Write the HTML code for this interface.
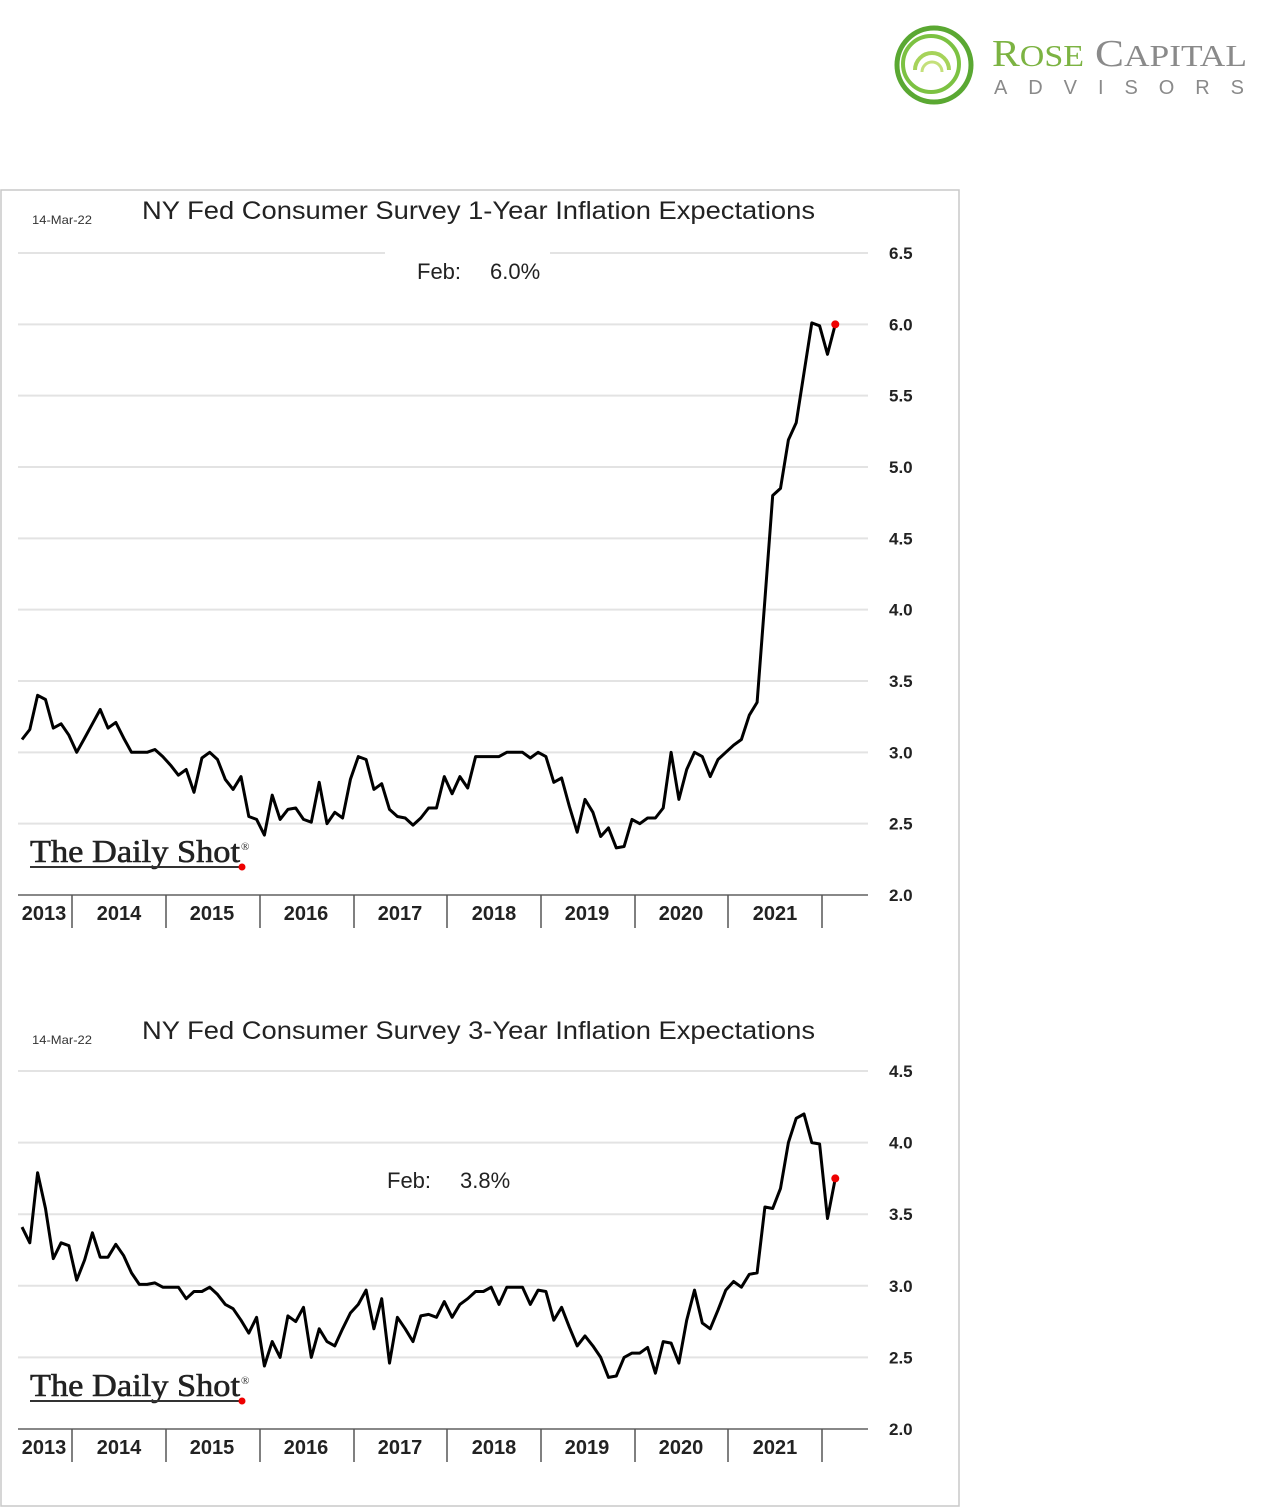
<!DOCTYPE html>
<html><head><meta charset="utf-8">
<style>
html,body{margin:0;padding:0;background:#fff;width:1272px;height:1507px;overflow:hidden}
svg{display:block}
.t{font-family:"Liberation Sans",sans-serif}
</style></head>
<body>
<svg id="page" width="1272" height="1507" viewBox="0 0 1272 1507">
  <g>
    <circle cx="934" cy="65" r="37" fill="none" stroke="#5aa832" stroke-width="5"/>
    <circle cx="931" cy="64" r="28" fill="none" stroke="#7cc242" stroke-width="4"/>
    <path d="M915 70 A17 17 0 0 1 949 70" fill="none" stroke="#a6d35a" stroke-width="4"/>
    <path d="M922 72 A10 10 0 0 1 942 72" fill="none" stroke="#c4e07a" stroke-width="3"/>
    <text x="992" y="66" font-family="Liberation Serif,serif" font-size="38" fill="#7cb342" textLength="92" lengthAdjust="spacingAndGlyphs">R<tspan font-size="31">OSE</tspan></text>
    <text x="1095" y="66" font-family="Liberation Serif,serif" font-size="38" fill="#8a8a8a" textLength="152" lengthAdjust="spacingAndGlyphs">C<tspan font-size="31">APITAL</tspan></text>
    <text x="994" y="94" class="t" font-size="20" fill="#8a8a8a" textLength="250" lengthAdjust="spacing">ADVISORS</text>
  </g>
  <rect x="1" y="190" width="958" height="1316" fill="none" stroke="#c8c8c8" stroke-width="1.5"/>
  <g id="c1"></g>
  <g id="c2"></g>
</svg>
<script>
const years = ["2013","2014","2015","2016","2017","2018","2019","2020","2021"];
const ticks1 = ["6.5","6.0","5.5","5.0","4.5","4.0","3.5","3.0","2.5","2.0"];
const ticks2 = ["4.5","4.0","3.5","3.0","2.5","2.0"];
const oneYear = [3.09,3.16,3.40,3.37,3.17,3.20,3.12,3.00,3.10,3.20,3.30,3.17,3.21,3.10,3.00,3.00,3.00,3.02,2.97,2.91,2.84,2.88,2.72,2.96,3.00,2.95,2.81,2.74,2.83,2.55,2.53,2.42,2.70,2.53,2.60,2.61,2.53,2.51,2.79,2.50,2.58,2.54,2.81,2.97,2.95,2.74,2.78,2.60,2.55,2.54,2.49,2.54,2.61,2.61,2.83,2.71,2.83,2.75,2.97,2.97,2.97,2.97,3.00,3.00,3.00,2.96,3.00,2.97,2.79,2.82,2.62,2.44,2.67,2.58,2.41,2.47,2.33,2.34,2.53,2.50,2.54,2.54,2.61,3.00,2.67,2.88,3.00,2.97,2.83,2.95,3.00,3.05,3.09,3.26,3.35,4.07,4.80,4.85,5.19,5.31,5.66,6.01,5.99,5.79,6.00];
const threeYear = [3.41,3.30,3.79,3.54,3.19,3.30,3.28,3.04,3.18,3.37,3.20,3.20,3.29,3.21,3.09,3.01,3.01,3.02,2.99,2.99,2.99,2.91,2.96,2.96,2.99,2.94,2.87,2.84,2.76,2.67,2.78,2.44,2.61,2.50,2.79,2.75,2.85,2.50,2.70,2.61,2.58,2.70,2.81,2.87,2.97,2.70,2.91,2.46,2.78,2.70,2.61,2.79,2.80,2.78,2.89,2.78,2.87,2.91,2.96,2.96,2.99,2.87,2.99,2.99,2.99,2.87,2.97,2.96,2.76,2.85,2.71,2.58,2.65,2.58,2.50,2.36,2.37,2.50,2.53,2.53,2.57,2.39,2.61,2.60,2.46,2.76,2.97,2.74,2.70,2.83,2.97,3.03,2.99,3.08,3.09,3.55,3.54,3.68,4.00,4.17,4.20,4.00,3.99,3.47,3.75];

const NS="http://www.w3.org/2000/svg";
function el(parent,tag,attrs,text){const e=document.createElementNS(NS,tag);for(const k in attrs)e.setAttribute(k,attrs[k]);if(text!==undefined)e.textContent=text;parent.appendChild(e);return e;}
const xMonth = i => 22 + 7.82*i;
const yearSep = [72,166,260,354,447,541,635,728,822];
const yearLbl = [44,119,212,306,400,494,587,681,775];

function draw(g, cfg){
  const yScale = v => cfg.yBot - (v - cfg.vMin)*(cfg.yBot-cfg.yTop)/(cfg.vMax-cfg.vMin);
  let t=el(g,'text',{x:32,y:cfg.titleY+14,'font-size':12,fill:'#333',class:'t',textLength:60,lengthAdjust:'spacingAndGlyphs'},'14-Mar-22');
  
  
  t=el(g,'text',{x:142,y:cfg.titleY+9,'font-size':25,fill:'#222',class:'t',textLength:673,lengthAdjust:'spacingAndGlyphs'},cfg.title);
  
  
  cfg.ticks.forEach(s=>{
    const v=parseFloat(s), y=yScale(v);
    if(v===cfg.vMin){
      const a=el(g,'line',{x1:18,x2:868,y1:y,y2:y,stroke:'#888','stroke-width':2});
      
      
    } else {
      const gaps = (v===cfg.vMax && cfg.gap) ? [[18,cfg.gap[0]],[cfg.gap[1],868]] : [[18,868]];
      gaps.forEach(p=>{
        const l=el(g,'line',{x1:p[0],x2:p[1],y1:y,y2:y,stroke:'#e3e3e3','stroke-width':2});
        
        
      });
    }
    const lb=el(g,'text',{x:889,y:y+6,'font-size':17,'font-weight':'bold',fill:'#222',class:'t'},s);
    
    
  });
  const yb=yScale(cfg.vMin);
  yearSep.forEach((x,i)=>{
    const l=el(g,'line',{x1:x,x2:x,y1:yb,y2:yb+33,stroke:'#555','stroke-width':1.5});
    
    
  });
  years.forEach((s,i)=>{
    const lb=el(g,'text',{x:yearLbl[i],y:yb+25,'font-size':20,'font-weight':'bold',fill:'#222',class:'t','text-anchor':'middle'},s);
    
    
  });
  const wm=el(g,'g',{});
  
  
  el(wm,'text',{x:30,y:cfg.wmY,'font-size':32,fill:'#222','font-family':'Liberation Serif,serif',stroke:'#222','stroke-width':0.6,textLength:210,lengthAdjust:'spacingAndGlyphs'},'The Daily Shot');
  el(wm,'text',{x:241,y:cfg.wmY-12,'font-size':11,fill:'#222','font-family':'Liberation Serif,serif'},'®');
  el(wm,'line',{x1:30,x2:242,y1:cfg.wmY+5,y2:cfg.wmY+5,stroke:'#333','stroke-width':2});
  el(wm,'circle',{cx:242,cy:cfg.wmY+5,r:3.5,fill:'#e00'});
  const an=el(g,'text',{x:cfg.annX,y:cfg.annY,'font-size':22,fill:'#222',class:'t'});
  
  
  el(an,'tspan',{x:cfg.annX},'Feb:');
  el(an,'tspan',{x:cfg.annX+73},cfg.ann);
  const pts=cfg.data.map((v,i)=>xMonth(i).toFixed(1)+','+yScale(v).toFixed(1)).join(' ');
  const pl=el(g,'polyline',{points:pts,fill:'none',stroke:'#000','stroke-width':3,'stroke-linejoin':'round'});
  
  
  const n=cfg.data.length-1;
  const dot=el(g,'circle',{cx:xMonth(n),cy:yScale(cfg.data[n]),r:4,fill:'#e00'});
  
  
}
draw(document.getElementById('c1'),{title:'NY Fed Consumer Survey 1-Year Inflation Expectations',titleY:210,ticks:ticks1,vMin:2.0,vMax:6.5,yTop:253,yBot:895,data:oneYear,wmY:862,annX:417,annY:279,ann:'6.0%',gap:[385,550]});
draw(document.getElementById('c2'),{title:'NY Fed Consumer Survey 3-Year Inflation Expectations',titleY:1030,ticks:ticks2,vMin:2.0,vMax:4.5,yTop:1071,yBot:1429,data:threeYear,wmY:1396,annX:387,annY:1188,ann:'3.8%'});
</script>
</body></html>
